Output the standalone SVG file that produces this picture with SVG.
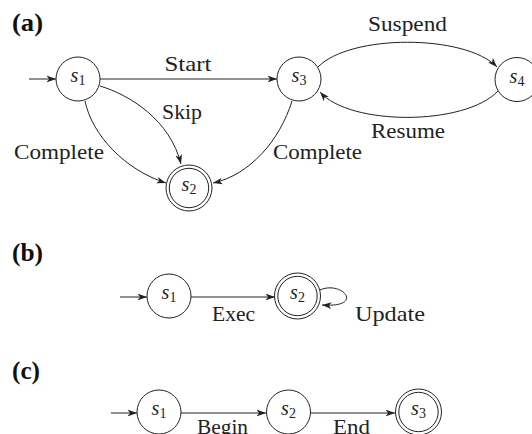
<svg xmlns="http://www.w3.org/2000/svg" width="532" height="434" viewBox="0 0 532 434">
<style>
.st{fill:#fff;stroke:#222;stroke-width:1}
.e{fill:none;stroke:#222;stroke-width:1;marker-end:url(#arr)}
.lb{font-family:"Liberation Serif",serif;font-size:21px;fill:#222;text-anchor:middle}
.sl{font-family:"Liberation Serif",serif;font-size:20px;fill:#222;text-anchor:middle}
.sl .v{font-style:italic}
.sl .n{font-size:14px}
.pl{font-family:"Liberation Serif",serif;font-size:25px;font-weight:bold;fill:#111}
</style>
<defs>
<marker id="arr" markerUnits="userSpaceOnUse" viewBox="0 0 10 8" markerWidth="10" markerHeight="8" refX="9.5" refY="4" orient="auto">
<path d="M0,0.6 L9.5,4 L0,7.4 L2.6,4 Z" fill="#222"/>
</marker>
</defs>
<g id="panel-labels">
<text class="pl" x="12" y="31" textLength="31" lengthAdjust="spacingAndGlyphs">(a)</text>
<text class="pl" x="12" y="261" textLength="31" lengthAdjust="spacingAndGlyphs">(b)</text>
<text class="pl" x="12" y="379" textLength="28" lengthAdjust="spacingAndGlyphs">(c)</text>
</g>
<g id="connectors">
<path class="e" d="M29,79 L56,79"/>
<path class="e" d="M100,79 L277,79"/>
<path class="e" d="M85,101 C92,135 125,170 166,183"/>
<path class="e" d="M100,86 C130,95 170,120 181,164"/>
<path class="e" d="M292,101 C280,140 250,175 213,183"/>
<path class="e" d="M318,67 C350,34 465,34 497,67"/>
<path class="e" d="M498,91 C465,126 350,126 320,92"/>
<path class="e" d="M120,297 L147,297"/>
<path class="e" d="M191,297 L275,297"/>
<path class="e" d="M320,290 C342,280 366,308 322,305"/>
<path class="e" d="M111,413 L137,413"/>
<path class="e" d="M181,413 L266,413"/>
<path class="e" d="M310,413 L395,413"/>
</g>
<g id="edge-labels">
<text class="lb" x="188" y="71" textLength="47" lengthAdjust="spacingAndGlyphs">Start</text>
<text class="lb" x="182" y="119" textLength="40" lengthAdjust="spacingAndGlyphs">Skip</text>
<text class="lb" x="59" y="159" textLength="90" lengthAdjust="spacingAndGlyphs">Complete</text>
<text class="lb" x="317.5" y="159" textLength="89" lengthAdjust="spacingAndGlyphs">Complete</text>
<text class="lb" x="407.5" y="31" textLength="79" lengthAdjust="spacingAndGlyphs">Suspend</text>
<text class="lb" x="408" y="138" textLength="74" lengthAdjust="spacingAndGlyphs">Resume</text>
<text class="lb" x="233.5" y="321" textLength="43" lengthAdjust="spacingAndGlyphs">Exec</text>
<text class="lb" x="390" y="321" textLength="70" lengthAdjust="spacingAndGlyphs">Update</text>
<text class="lb" x="222.5" y="434" textLength="51" lengthAdjust="spacingAndGlyphs">Begin</text>
<text class="lb" x="351.5" y="434" textLength="37" lengthAdjust="spacingAndGlyphs">End</text>
</g>
<g id="a-s1"><circle class="st" cx="78" cy="79" r="22"/><text class="sl" x="78" y="82"><tspan class="v">s</tspan><tspan class="n" dy="3">1</tspan></text></g>
<g id="a-s2"><circle class="st" cx="189" cy="188" r="23"/><circle class="st" cx="189" cy="188" r="19.7"/><text class="sl" x="189" y="191"><tspan class="v">s</tspan><tspan class="n" dy="3">2</tspan></text></g>
<g id="a-s3"><circle class="st" cx="299" cy="79" r="22"/><text class="sl" x="299" y="82"><tspan class="v">s</tspan><tspan class="n" dy="3">3</tspan></text></g>
<g id="a-s4"><circle class="st" cx="517" cy="79.5" r="22"/><text class="sl" x="517" y="82.5"><tspan class="v">s</tspan><tspan class="n" dy="3">4</tspan></text></g>
<g id="b-s1"><circle class="st" cx="169" cy="296" r="22"/><text class="sl" x="169" y="299"><tspan class="v">s</tspan><tspan class="n" dy="3">1</tspan></text></g>
<g id="b-s2"><circle class="st" cx="297.5" cy="296" r="23"/><circle class="st" cx="297.5" cy="296" r="19.7"/><text class="sl" x="297.5" y="299"><tspan class="v">s</tspan><tspan class="n" dy="3">2</tspan></text></g>
<g id="c-s1"><circle class="st" cx="159" cy="412" r="22"/><text class="sl" x="159" y="415"><tspan class="v">s</tspan><tspan class="n" dy="3">1</tspan></text></g>
<g id="c-s2"><circle class="st" cx="288.5" cy="412" r="22"/><text class="sl" x="288.5" y="415"><tspan class="v">s</tspan><tspan class="n" dy="3">2</tspan></text></g>
<g id="c-s3"><circle class="st" cx="418.5" cy="412" r="23"/><circle class="st" cx="418.5" cy="412" r="19.7"/><text class="sl" x="418.5" y="415"><tspan class="v">s</tspan><tspan class="n" dy="3">3</tspan></text></g>
</svg>
